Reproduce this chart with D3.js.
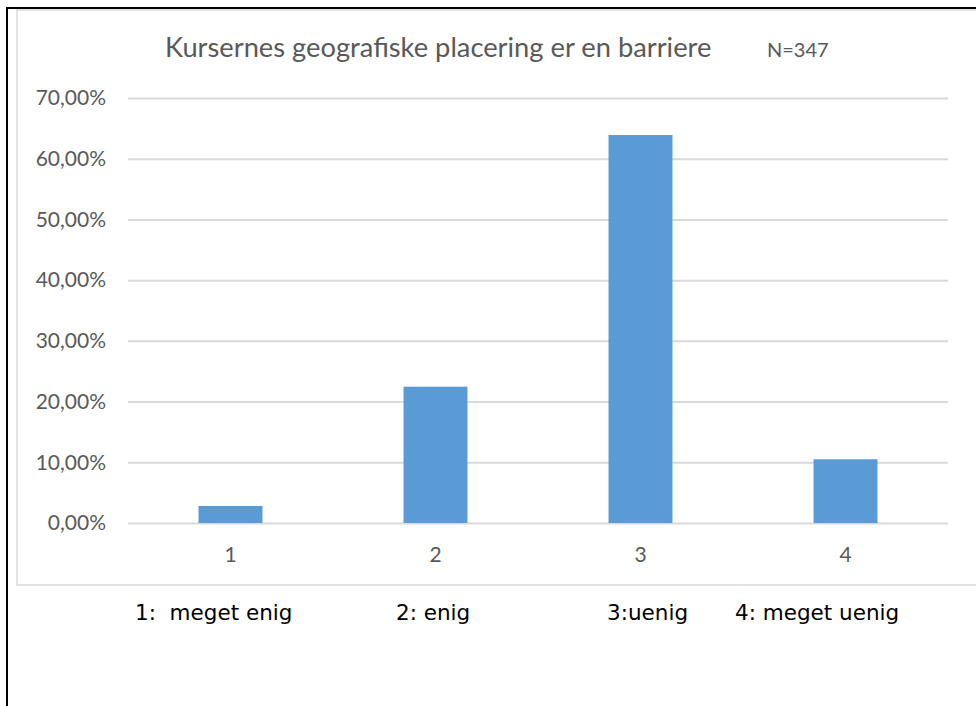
<!DOCTYPE html>
<html>
<head>
<meta charset="utf-8">
<script src="https://cdn.jsdelivr.net/npm/d3@7"></script>
<style>
  body { margin: 0; background: #fff; }
  svg { display: block; }
</style>
</head>
<body>
<script>
// Data
const categories = ["1", "2", "3", "4"];
const values = [2.8, 22.45, 63.9, 10.5];
const yTicks = [0, 10, 20, 30, 40, 50, 60, 70];
const title = "Kursernes geografiske placering er en barriere";
const sampleNote = "N=347";
const answerLabels = ["1:  meget enig", "2: enig", "3:uenig", "4: meget uenig"];

const W = 976, H = 706;
const plot = { left: 128, right: 948, top: 98, bottom: 523 };
const textColor = "#595959";
const calibriLike = "Lato, 'Open Sans', sans-serif";

const svg = d3.select("body").append("svg")
    .attr("width", W)
    .attr("height", H);

// Frame: outer black lines and grey chart border
svg.append("rect")
    .attr("x", 17).attr("y", 10)
    .attr("width", W).attr("height", 575)
    .attr("fill", "#fff")
    .attr("stroke", "#D9D9D9")
    .attr("stroke-width", 1.5);

svg.append("line")
    .attr("x1", 6).attr("x2", W).attr("y1", 8).attr("y2", 8)
    .attr("stroke", "#000").attr("stroke-width", 2);
svg.append("line")
    .attr("x1", 7).attr("x2", 7).attr("y1", 7).attr("y2", H)
    .attr("stroke", "#000").attr("stroke-width", 2);

// Scales
const x = d3.scaleBand()
    .domain(categories)
    .range([plot.left, plot.right])
    .paddingInner(0.688)
    .paddingOuter(0.344);

const y = d3.scaleLinear()
    .domain([0, 70])
    .range([plot.bottom, plot.top]);

// Y axis with gridlines
const yAxis = svg.append("g")
    .attr("transform", `translate(${plot.left},0)`)
    .call(d3.axisLeft(y)
        .tickValues(yTicks)
        .tickSize(-(plot.right - plot.left))
        .tickPadding(22)
        .tickFormat(d => d.toFixed(2).replace(".", ",") + "%"));
yAxis.select(".domain").remove();
yAxis.selectAll("line").attr("stroke", "#D9D9D9").attr("stroke-width", 2);
yAxis.selectAll("text")
    .attr("fill", textColor)
    .style("font-family", calibriLike)
    .style("font-size", "21px");

// Bars
svg.append("g")
    .selectAll("rect")
    .data(values)
    .join("rect")
    .attr("x", (d, i) => x(categories[i]))
    .attr("y", d => y(d))
    .attr("width", x.bandwidth())
    .attr("height", d => y(0) - y(d))
    .attr("fill", "#5B9BD5");

// X axis
const xAxis = svg.append("g")
    .attr("transform", `translate(0,${plot.bottom})`)
    .call(d3.axisBottom(x).tickSize(0).tickPadding(24));
xAxis.select(".domain").remove();
xAxis.selectAll("text")
    .attr("fill", textColor)
    .style("font-family", calibriLike)
    .style("font-size", "21px");

// Title
svg.append("text")
    .attr("x", 165)
    .attr("y", 57)
    .attr("fill", textColor)
    .style("font-family", calibriLike)
    .style("font-size", "27.3px")
    .text(title);

svg.append("text")
    .attr("x", 767)
    .attr("y", 57)
    .attr("fill", textColor)
    .style("font-family", calibriLike)
    .style("font-size", "20px")
    .text(sampleNote);

// Answer key under the chart
const answerX = [135, 396, 607, 735];
svg.append("g")
    .selectAll("text")
    .data(answerLabels)
    .join("text")
    .attr("x", (d, i) => answerX[i])
    .attr("y", 620)
    .attr("fill", "#000")
    .style("white-space", "pre")
    .style("font-family", "'DejaVu Sans', sans-serif")
    .style("font-size", "21.5px")
    .text(d => d);
</script>
</body>
</html>
